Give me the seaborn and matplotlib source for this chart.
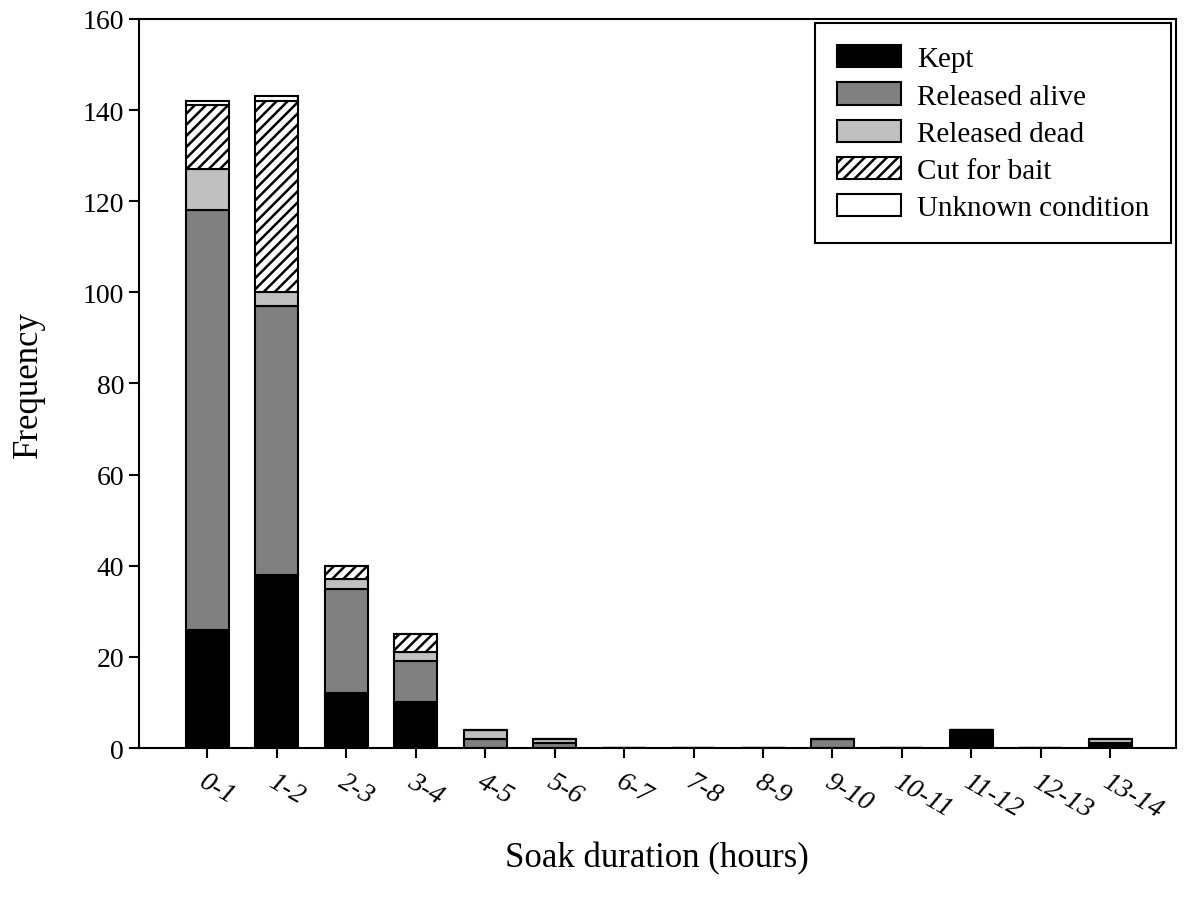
import pandas as pd
import numpy as np
import matplotlib
matplotlib.use("Agg")
import matplotlib.pyplot as plt
import seaborn as sns

# soak duration bins
bins = ["0-1", "1-2", "2-3", "3-4", "4-5", "5-6", "6-7", "7-8",
        "8-9", "9-10", "10-11", "11-12", "12-13", "13-14"]

kept = [26, 38, 12, 10, 0, 0, 0, 0, 0, 0, 0, 4, 0, 1]
released_alive = [92, 59, 23, 9, 2, 1, 0, 0, 0, 2, 0, 0, 0, 0]
released_dead = [9, 3, 2, 2, 2, 1, 0, 0, 0, 0, 0, 0, 0, 1]
cut_for_bait = [14, 42, 3, 4, 0, 0, 0, 0, 0, 0, 0, 0, 0, 0]
unknown = [1, 1, 0, 0, 0, 0, 0, 0, 0, 0, 0, 0, 0, 0]

groups = ["Kept", "Released alive", "Released dead", "Cut for bait", "Unknown condition"]
colors = ["#000000", "#808080", "#c0c0c0", "#ffffff", "#ffffff"]
hatches = [None, None, None, "///", None]

df = pd.DataFrame({"bin": bins, "Kept": kept, "Released alive": released_alive,
                   "Released dead": released_dead, "Cut for bait": cut_for_bait,
                   "Unknown condition": unknown})

sns.set_style("ticks")
plt.rcParams["font.family"] = ["Liberation Serif", "DejaVu Serif"]
plt.rcParams["hatch.linewidth"] = 1.8
plt.rcParams["text.color"] = "black"
plt.rcParams["axes.labelcolor"] = "black"
plt.rcParams["xtick.color"] = "black"
plt.rcParams["ytick.color"] = "black"

fig = plt.figure(figsize=(11.85, 9.03), dpi=100)
ax = fig.add_axes([0.117, 0.1705, 0.875, 0.8075])

# stacked bars
bottom = np.zeros(len(bins))
for g, c, h in zip(groups, colors, hatches):
    sns.barplot(data=df, x="bin", y=g, color=c, bottom=bottom, width=0.62,
                edgecolor="black", linewidth=1.5, hatch=h, label=g,
                saturation=1, ax=ax)
    bottom = bottom + df[g].values

ax.set_xlim(-0.99, 13.94)
ax.set_ylim(0, 160)
ax.set_yticks(range(0, 161, 20))
ax.tick_params(axis="both", direction="out", length=7, width=1.5, labelsize=20)
ax.tick_params(axis="x", pad=8)
for s in ax.spines.values():
    s.set_visible(True)
    s.set_linewidth(1.5)
    s.set_color("black")

for lab in ax.get_xticklabels():
    lab.set_rotation(-30)
    lab.set_ha("left")
    lab.set_va("top")
    lab.set_style("italic")
    lab.set_fontsize(20)
    lab.set_rotation_mode("anchor")

ax.set_xlabel("Soak duration (hours)", fontsize=25)
ax.set_ylabel("Frequency", fontsize=25)
ax.xaxis.set_label_coords(0.5, -0.128)
ax.yaxis.set_label_coords(-0.09, 0.5)

leg = ax.legend(loc="upper right", fontsize=21, frameon=True, fancybox=False,
                edgecolor="black", framealpha=1, borderpad=0.75,
                handlelength=2.2, handleheight=0.8, labelspacing=0.34,
                handletextpad=0.55, borderaxespad=0.15)
leg.get_frame().set_linewidth(1.5)

fig.savefig("out.png", dpi=100)
